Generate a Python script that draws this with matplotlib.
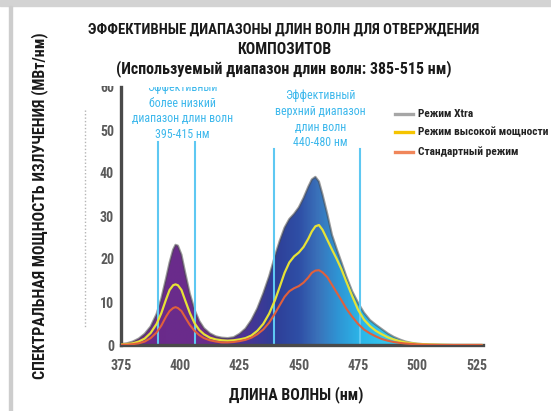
import numpy as np
import matplotlib
matplotlib.use("Agg")
import matplotlib.pyplot as plt
from matplotlib import font_manager as fm
from matplotlib.colors import LinearSegmentedColormap, Normalize
from matplotlib.patches import Polygon, Rectangle
from matplotlib.lines import Line2D
from matplotlib.transforms import Bbox, TransformedBbox

# pick a narrow sans face if one is installed (the original uses a condensed font)
avail = {f.name for f in fm.fontManager.ttflist}
narrow = {f.name for f in fm.fontManager.ttflist
          if str(f.stretch) in ("condensed", "semi-condensed", "extra-condensed")}
family, stretch = ["Liberation Sans", "DejaVu Sans"], "normal"
for nm in ["Liberation Sans Narrow", "Roboto Condensed", "Open Sans Condensed",
           "Noto Sans Condensed", "DejaVu Sans Condensed"]:
    if nm in avail:
        family = [nm, "DejaVu Sans"]
        break
else:
    for nm in ["Noto Sans", "DejaVu Sans", "Roboto", "Open Sans"]:
        if nm in narrow:
            family, stretch = [nm, "DejaVu Sans"], "condensed"
            break
plt.rcParams["font.family"] = family
plt.rcParams["font.stretch"] = stretch

# wavelength grid (nm) and readings (mW/nm)
wl = [375, 377.5, 380, 382.5, 385, 387.5, 390, 392, 394, 395.5, 397, 398, 399, 400.5,
      402, 404, 406, 408, 410, 412.5, 415, 417.5, 420, 422.5, 425, 427.5, 430, 432.5,
      435, 437.5, 440, 442, 444, 446, 448, 450, 452, 454, 455.5, 457, 458.5, 460, 462,
      464, 466, 468, 470, 472.5, 475, 477.5, 480, 482.5, 485, 487.5, 490, 492.5, 495,
      497.5, 500, 505, 510, 515, 520, 527]
xtra = [0.2, 0.4, 0.8, 1.5, 2.6, 4.3, 7.2, 10.8, 15.5, 19.2, 22.2, 23.3, 23.1, 21.0,
        17.0, 12.0, 8.2, 5.6, 3.9, 2.7, 2.0, 1.7, 1.6, 1.8, 2.6, 3.8, 5.8, 8.5,
        12.0, 16.0, 20.8, 24.3, 27.3, 29.3, 30.5, 32.0, 34.2, 36.8, 38.5, 39.1, 38.0, 35.0, 30.5,
        25.6, 22.3, 19.2, 16.0, 12.5, 9.8, 7.5, 5.8, 4.7, 3.7, 2.7, 1.9, 1.3, 0.8,
        0.5, 0.3, 0.1, 0.05, 0.0, 0.0, 0.0]
high = [0.1, 0.2, 0.4, 0.8, 1.5, 2.8, 4.9, 7.4, 10.6, 12.8, 13.9, 14.1, 13.9, 12.8,
        10.5, 7.5, 5.1, 3.5, 2.5, 1.7, 1.3, 1.1, 1.0, 1.1, 1.3, 1.6, 2.2, 3.3,
        4.9, 7.3, 10.5, 13.6, 16.8, 19.2, 20.6, 21.5, 22.8, 24.7, 26.4, 27.6, 27.9, 26.8, 24.5,
        22.2, 20.0, 17.6, 14.8, 11.4, 8.2, 5.9, 4.4, 3.3, 2.5, 1.8, 1.3, 0.9, 0.6,
        0.4, 0.25, 0.12, 0.05, 0.0, 0.0, 0.0]
standard = [0.05, 0.1, 0.2, 0.4, 0.8, 1.6, 2.9, 4.5, 6.6, 7.9, 8.6, 8.8, 8.6, 7.9,
            6.5, 4.7, 3.3, 2.3, 1.6, 1.1, 0.8, 0.6, 0.6, 0.7, 0.9, 1.2, 1.7, 2.5,
            3.6, 5.2, 7.4, 9.3, 11.2, 12.5, 13.2, 13.7, 14.5, 15.7, 16.8, 17.3, 17.4, 16.9, 15.8,
            14.0, 12.2, 10.4, 8.5, 6.6, 4.9, 3.6, 2.7, 2.0, 1.4, 1.0, 0.7, 0.5, 0.35,
            0.25, 0.15, 0.05, 0.0, 0.0, 0.0, 0.0]

band_lines = [390.7, 406.1, 439.4, 476.0]
band_tops = [47.3, 47.3, 45.5, 45.5]

xticks = [375, 400, 425, 450, 475, 500, 525]
yticks = [0, 10, 20, 30, 40, 50, 60]

labels = ["Режим Xtra", "Режим высокой мощности", "Стандартный режим"]
legend_colors = ["#a6a6a6", "#f5c400", "#f0865a"]

# gradient of the Xtra fill: purple -> dark blue -> cyan
grad_stops = [375, 412, 426, 440, 450, 458, 466, 476, 486, 528]
grad_colors = ["#6a2a8a", "#6a2c8c", "#4d3394", "#2e3f98", "#2f4fa6", "#3a72ba",
               "#2f93d3", "#2bb6e8", "#34c4ee", "#34c4ee"]

W, H = 551, 411
fig = plt.figure(figsize=(W / 100, H / 100), dpi=100)
fig.patch.set_facecolor("white")
renderer = fig.canvas.get_renderer()


def fit(txt, target, vertical=False):
    bb = txt.get_window_extent(renderer)
    size = bb.height if vertical else bb.width
    txt.set_fontsize(txt.get_fontsize() * target / size)
    return txt.get_fontsize()


# light grey frame of the original picture
fig.patches.append(Rectangle((0, 1 - 6 / H), 1, 6 / H, transform=fig.transFigure,
                             color="#d3d3d3", zorder=0))
fig.patches.append(Rectangle((9 / W, 0), 3 / W, 1 - 6 / H, transform=fig.transFigure,
                             color="#cdcdcd", zorder=0))

ax = fig.add_axes([121 / W, 66 / H, (483 - 121) / W, (345 - 87) / H])
x0, x1 = 375.4, 527.7

norm = Normalize(x0, x1)
pos = np.clip([norm(s) for s in grad_stops], 0, 1)
pos[0], pos[-1] = 0.0, 1.0
cmap = LinearSegmentedColormap.from_list("uv", list(zip(pos, grad_colors)))
gx = np.linspace(x0, x1, 600)
im = ax.imshow(gx[None, :], extent=[x0, x1, 0, 60], aspect="auto", cmap=cmap,
               norm=norm, zorder=1, interpolation="bilinear")
verts = np.column_stack([np.r_[wl, wl[::-1]], np.r_[xtra, np.zeros(len(wl))]])
poly = Polygon(verts, closed=True, facecolor="none", edgecolor="none",
               transform=ax.transData)
ax.add_patch(poly)
im.set_clip_path(poly)
ax.plot(wl, xtra, color="#4a4a4a", alpha=0.55, lw=1.6, zorder=1.5)

for x, top in zip(band_lines, band_tops):
    ax.plot([x, x], [0, top], color="#5ec8f2", lw=1.5, zorder=2)

ax.plot(wl, high, color="#e6e236", lw=1.6, zorder=3)
ax.plot(wl, standard, color="#e0603c", lw=1.5, zorder=3)

ax.set_xlim(x0, x1)
ax.set_ylim(0, 60)
ax.set_xticks(xticks)
ax.set_yticks(yticks)
for s in ["top", "right"]:
    ax.spines[s].set_visible(False)
for s in ["left", "bottom"]:
    ax.spines[s].set_color("#4a4a4a")
    ax.spines[s].set_linewidth(2.4)

# annotations for the two effective bands
ann_col = "#3db8ec"
left_lines = ["Эффективный", "более низкий", "диапазон длин волн", "395-415 нм"]
left_y = [60.0, 56.2, 52.6, 49.0]
right_lines = ["Эффективный", "верхний диапазон", "длин волн", "440-480 нм"]
right_y = [58.1, 54.3, 50.5, 47.0]
ann = []
for t, y in zip(left_lines, left_y):
    ann.append(ax.text(401.0, y, t, ha="center", va="center", fontsize=9, color=ann_col,
                       clip_on=True, zorder=4))
for t, y in zip(right_lines, right_y):
    ann.append(ax.text(459.1, y, t, ha="center", va="center", fontsize=9, color=ann_col,
                       clip_on=True, zorder=4))
fs = fit(ann[2], 102)
for t in ann:
    t.set_fontsize(fs)

# titles and axis labels
title_lines = ["ЭФФЕКТИВНЫЕ ДИАПАЗОНЫ ДЛИН ВОЛН ДЛЯ ОТВЕРЖДЕНИЯ", "КОМПОЗИТОВ",
               "(Используемый диапазон длин волн: 385-515 нм)"]
title_w = [396, 95, 338]
for t, ypx, wpx in zip(title_lines, [30, 49, 68.5], title_w):
    tt = fig.text(284 / W, 1 - ypx / H, t, ha="center", va="center", fontsize=10.5,
                  fontweight="bold", color="#1a1a1a")
    fit(tt, wpx)
yl = fig.text(40 / W, 1 - 206 / H, "СПЕКТРАЛЬНАЯ МОЩНОСТЬ ИЗЛУЧЕНИЯ (МВт/нм)", rotation=90,
              ha="center", va="center", fontsize=10, fontweight="bold", color="#1a1a1a")
fit(yl, 346, vertical=True)
xl = fig.text(296 / W, 1 - 395 / H, "ДЛИНА ВОЛНЫ (нм)", ha="center", va="center",
              fontsize=10.5, fontweight="bold", color="#1a1a1a")
fit(xl, 136)

# faint leftover dotted rule next to the y ticks
fig.add_artist(Line2D([85 / W, 85 / W], [1 - 110 / H, 1 - 327 / H], transform=fig.transFigure,
                      color="#b5b5b5", lw=1.0, ls=(0, (1, 1.5))))

# legend (longest entry kept just inside the right edge)
leg = []
for lab, col, ypx in zip(labels, legend_colors, [114, 132.3, 151.7]):
    fig.add_artist(Line2D([395 / W, 413 / W], [1 - ypx / H, 1 - ypx / H],
                          transform=fig.transFigure, color=col, lw=2.4))
    leg.append(fig.text(418 / W, 1 - ypx / H, lab, ha="left", va="center", fontsize=8.5,
                        fontweight="bold", color="#222222"))
fs = min(fit(leg[2], 106), fit(leg[1], 131))
for t in leg:
    t.set_fontsize(fs)

# tick labels, sized so "375" is about 21 px wide
probe = fig.text(0, 0, "375", fontsize=9, fontweight="bold")
tfs = fit(probe, 21)
probe.remove()
ax.tick_params(length=0, labelsize=tfs, colors="#5a5a5a")
ax.tick_params(axis="x", pad=10)
ax.tick_params(axis="y", pad=5)
for lbl in ax.get_xticklabels() + ax.get_yticklabels():
    lbl.set_fontweight("bold")
top_lbl = ax.get_yticklabels()[-1]
top_lbl.set_clip_on(True)
top_lbl.set_clip_box(TransformedBbox(Bbox([[0, 0], [1, 1 - 86 / H]]), fig.transFigure))

fig.savefig("out.png", dpi=100)
